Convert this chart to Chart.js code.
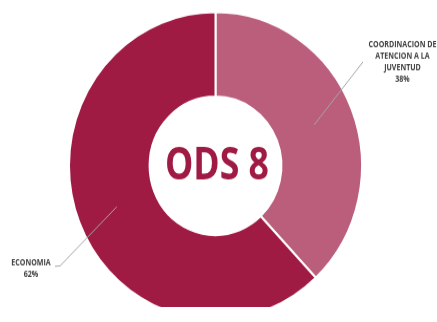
<!DOCTYPE html>
<html>
<head>
<meta charset="utf-8">
<script src="https://cdn.jsdelivr.net/npm/chart.js@4"></script>
<style>
  html, body { margin: 0; padding: 0; background: #ffffff; overflow: hidden; }
  #wrap { width: 437px; height: 307px; transform: scaleY(1.049); transform-origin: 0 0; }
</style>
</head>
<body>
<div id="wrap"><canvas id="ods"></canvas></div>
<script>
// Share of ODS 8 items by area
const categories = ['COORDINACION DE ATENCION A LA JUVENTUD', 'ECONOMIA'];
const labelLines = [['COORDINACION DE', 'ATENCION A LA', 'JUVENTUD'], ['ECONOMIA']];
const shares = [38, 62];
const centerTitle = 'ODS 8';

const sliceColors = ['#bb5e7c', '#9f1b44'];

// Where each callout text sits and where its leader line ends
const callouts = [
  { textX: 402.5, textY: 43, lineTo: [[363, 59]] },
  { textX: 31, textY: 250.5, lineTo: [[60, 253.5], [55, 253.8]] }
];

const centerText = {
  id: 'centerText',
  afterDatasetsDraw(chart) {
    const arc = chart.getDatasetMeta(0).data[0];
    const ctx = chart.ctx;
    ctx.save();
    ctx.font = 'bold 43px "Open Sans"';
    ctx.fillStyle = sliceColors[1];
    ctx.textAlign = 'center';
    ctx.textBaseline = 'middle';
    const w = ctx.measureText(centerTitle).width;
    ctx.translate(arc.x + 1.5, arc.y + 1);
    ctx.scale(104 / w, 1);
    ctx.fillText(centerTitle, 0, 0);
    ctx.restore();
  }
};

const callout = {
  id: 'callout',
  afterDatasetsDraw(chart) {
    const ctx = chart.ctx;
    const meta = chart.getDatasetMeta(0);
    ctx.save();
    ctx.font = 'bold 8.5px "Open Sans"';
    // condensed lettering: widest line is about 68px across
    const sx = 68 / ctx.measureText(labelLines[0][0]).width;
    meta.data.forEach((arc, i) => {
      const c = callouts[i];
      const p = arc.tooltipPosition();
      ctx.strokeStyle = '#a6a6a6';
      ctx.lineWidth = 1;
      ctx.beginPath();
      ctx.moveTo(p.x, p.y);
      c.lineTo.forEach(pt => ctx.lineTo(pt[0], pt[1]));
      ctx.stroke();

      const lines = labelLines[i].concat([shares[i] + '%']);
      ctx.fillStyle = '#404040';
      ctx.textAlign = 'center';
      ctx.textBaseline = 'middle';
      lines.forEach((t, k) => {
        ctx.save();
        ctx.translate(c.textX, c.textY + k * 11);
        ctx.scale(sx, 1);
        ctx.fillText(t, 0, 0);
        ctx.restore();
      });
    });
    ctx.restore();
  }
};

new Chart(document.getElementById('ods'), {
  type: 'doughnut',
  data: {
    labels: categories,
    datasets: [{
      data: shares,
      backgroundColor: sliceColors,
      borderColor: '#ffffff',
      borderWidth: 2,
      hoverOffset: 0
    }]
  },
  options: {
    responsive: true,
    maintainAspectRatio: false,
    animation: false,
    cutout: '45%',
    layout: { padding: { left: 68, right: 74, top: 10.5, bottom: 1.5 } },
    plugins: {
      legend: { display: false },
      tooltip: { enabled: false }
    }
  },
  plugins: [centerText, callout]
});
</script>
</body>
</html>
